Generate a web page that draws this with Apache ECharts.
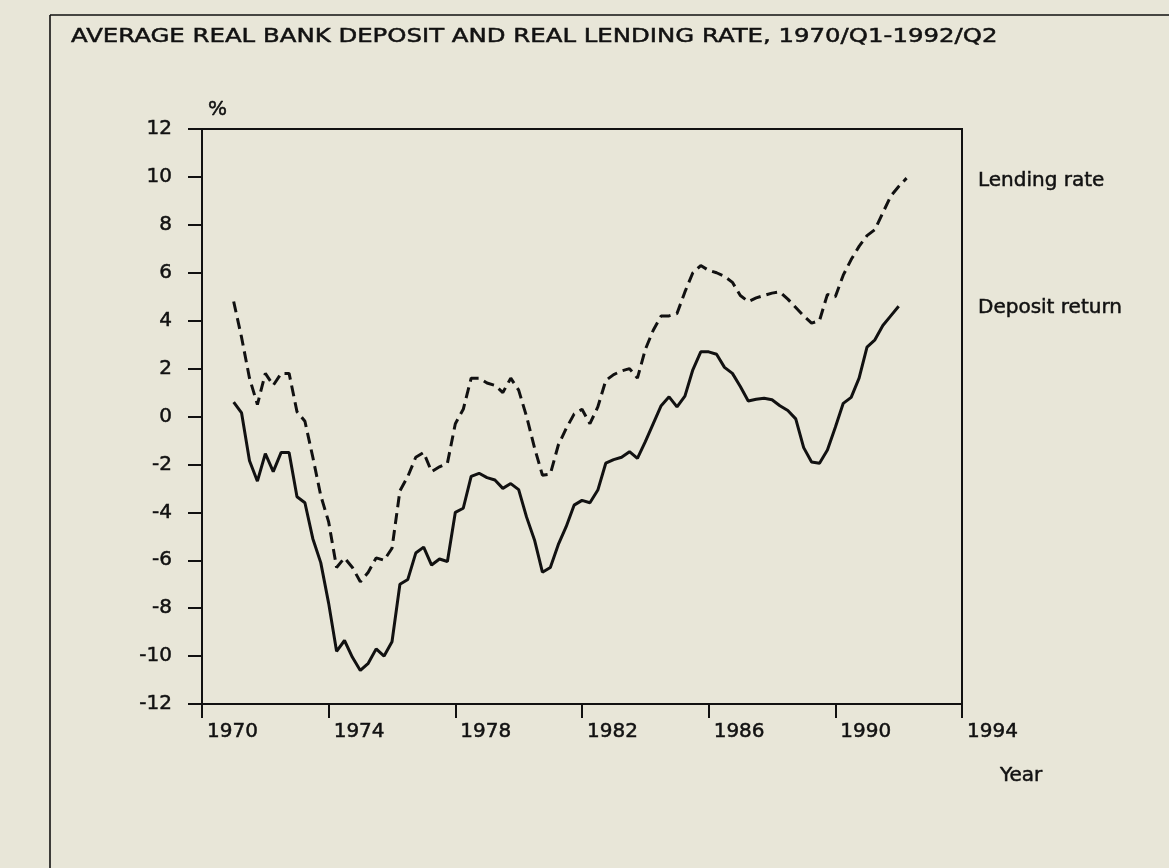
<!DOCTYPE html>
<html>
<head>
<meta charset="utf-8">
<script src="https://cdn.jsdelivr.net/npm/echarts@6/dist/echarts.min.js"></script>
<style>
  html, body { margin: 0; padding: 0; background: #e8e6d8; }
  #chart { width: 1169px; height: 868px; }
</style>
</head>
<body>
<div id="chart"></div>
<script>
// ---- Data (quarterly) ----
const firstYear = 1971;                 // first plotted quarter: 1971/Q1
const xTicks = [1970, 1974, 1978, 1982, 1986, 1990, 1994];
const yTicks = [-12, -10, -8, -6, -4, -2, 0, 2, 4, 6, 8, 10, 12];

// Lending rate (dashed), 1971/Q1 .. 1992/Q2
const lendingRate = [4.8, 3.3, 1.6, 0.5, 1.8, 1.3, 1.8, 1.8, 0.2, -0.2,
  -1.7, -3.3, -4.4, -6.3, -5.9, -6.3, -6.9, -6.5, -5.9, -6.0,
  -5.5, -3.1, -2.5, -1.7, -1.5, -2.3, -2.1, -1.95, -0.3, 0.3,
  1.6, 1.6, 1.4, 1.3, 1.0, 1.6, 1.1, 0.0, -1.3, -2.45,
  -2.4, -1.2, -0.5, 0.1, 0.3, -0.3, 0.4, 1.5, 1.75, 1.9,
  2.0, 1.6, 2.8, 3.6, 4.2, 4.2, 4.3, 5.2, 6.0, 6.3,
  6.1, 6.0, 5.85, 5.6, 5.05, 4.8, 4.95, 5.05, 5.15, 5.2,
  4.9, 4.55, 4.2, 3.9, 4.0, 5.1, 5.0, 5.9, 6.55, 7.1,
  7.55, 7.8, 8.5, 9.2, 9.6, 9.95];

// Deposit return (solid), 1971/Q1 .. 1992/Q1
const depositReturn = [0.6, 0.15, -1.85, -2.7, -1.55, -2.3, -1.5, -1.5, -3.35, -3.6,
  -5.1, -6.1, -7.8, -9.8, -9.35, -10.05, -10.6, -10.3, -9.7, -10.0,
  -9.4, -7.0, -6.8, -5.7, -5.45, -6.2, -5.95, -6.05, -4.0, -3.83,
  -2.5, -2.37, -2.55, -2.65, -3.0, -2.8, -3.05, -4.2, -5.15, -6.5,
  -6.3, -5.35, -4.6, -3.7, -3.5, -3.6, -3.07, -1.95, -1.8, -1.7,
  -1.47, -1.75, -1.05, -0.3, 0.45, 0.82, 0.4, 0.85, 1.95, 2.7,
  2.7, 2.6, 2.05, 1.8, 1.25, 0.65, 0.72, 0.76, 0.7, 0.45,
  0.25, -0.1, -1.3, -1.9, -1.95, -1.4, -0.45, 0.55, 0.8, 1.6,
  2.9, 3.2, 3.8, 4.2, 4.6];

const titleText = 'AVERAGE REAL BANK DEPOSIT AND REAL LENDING RATE, 1970/Q1-1992/Q2';
const seriesNames = ['Lending rate', 'Deposit return'];

// quarter index -> decimal year position
function toPairs(values) {
  return values.map((v, i) => [firstYear + i / 4, v]);
}

const ink = '#111111';
const font = '"DejaVu Sans", "Liberation Sans", Arial, sans-serif';
const heavy = { textBorderColor: ink, textBorderWidth: 0.5 };

function label(text, x, y, scaleX) {
  return {
    type: 'text', x: x, y: y, scaleX: scaleX || 1,
    style: { text: text, font: '20px ' + font, fill: ink, verticalAlign: 'middle',
             stroke: ink, lineWidth: 0.5 }
  };
}

const chart = echarts.init(document.getElementById('chart'), null, { renderer: 'canvas' });
chart.setOption({
  backgroundColor: '#e8e6d8',
  animation: false,
  grid: {
    left: 202, top: 129, width: 760, height: 575,
    show: true, borderColor: ink, borderWidth: 2, backgroundColor: 'transparent'
  },
  xAxis: {
    type: 'value', min: xTicks[0], max: xTicks[xTicks.length - 1], interval: 4,
    axisLine: { onZero: false, lineStyle: { color: ink, width: 2 } },
    axisTick: { length: 14, lineStyle: { color: ink, width: 2 } },
    splitLine: { show: false },
    axisLabel: Object.assign({
      color: ink, fontFamily: font, fontSize: 20, margin: 18,
      align: 'left', padding: [0, 0, 0, 5],
      formatter: v => String(v)
    }, heavy)
  },
  yAxis: {
    type: 'value', min: yTicks[0], max: yTicks[yTicks.length - 1], interval: 2,
    axisLine: { onZero: false, lineStyle: { color: ink, width: 2 } },
    axisTick: { length: 14, lineStyle: { color: ink, width: 2 } },
    splitLine: { show: false },
    axisLabel: Object.assign({ color: ink, fontFamily: font, fontSize: 20, margin: 30 }, heavy)
  },
  series: [
    {
      name: seriesNames[0], type: 'line', data: toPairs(lendingRate),
      showSymbol: false, symbol: 'none',
      lineStyle: { color: ink, width: 3, type: [11, 6] }
    },
    {
      name: seriesNames[1], type: 'line', data: toPairs(depositReturn),
      showSymbol: false, symbol: 'none',
      lineStyle: { color: ink, width: 3, type: 'solid' }
    }
  ],
  graphic: [
    // outer frame (left and top edges)
    { type: 'line', shape: { x1: 50, y1: 15, x2: 50, y2: 868 }, style: { stroke: ink, lineWidth: 1.6 } },
    { type: 'line', shape: { x1: 50, y1: 15, x2: 1169, y2: 15 }, style: { stroke: ink, lineWidth: 1.6 } },
    label(titleText, 71, 37, 1.22),
    label('%', 208, 110),
    label(seriesNames[0], 978, 181),
    label(seriesNames[1], 978, 308),
    label('Year', 1000, 776)
  ]
});
</script>
</body>
</html>
